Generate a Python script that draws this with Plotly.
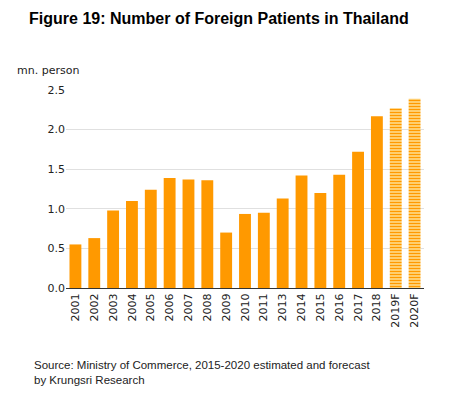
import plotly.graph_objects as go

years = ["2001", "2002", "2003", "2004", "2005", "2006", "2007", "2008", "2009", "2010",
         "2011", "2013", "2014", "2015", "2016", "2017", "2018"]
actual = [0.55, 0.63, 0.98, 1.10, 1.24, 1.39, 1.37, 1.36, 0.70, 0.935,
          0.95, 1.13, 1.42, 1.20, 1.43, 1.72, 2.17]
forecast_years = ["2019F", "2020F"]
forecast = [2.27, 2.39]
y_ticks = [0.0, 0.5, 1.0, 1.5, 2.0, 2.5]

ORANGE = "#FF9900"

fig = go.Figure()
fig.add_trace(go.Bar(x=years, y=actual, marker=dict(color=ORANGE, line=dict(width=0)),
                     width=0.63, showlegend=False))
fig.add_trace(go.Bar(x=forecast_years, y=forecast,
                     marker=dict(color="#FFF2B8", line=dict(width=0),
                                 pattern=dict(shape="-", fgcolor=ORANGE, bgcolor="#FFF2B8",
                                              size=3, solidity=0.6, fillmode="replace")),
                     width=0.63, showlegend=False))

fig.update_layout(
    width=456, height=397,
    margin=dict(l=66, r=32, t=90, b=109),
    paper_bgcolor="white", plot_bgcolor="white",
    bargap=0.37,
    title=dict(text="<b>Figure 19: Number of Foreign Patients in Thailand</b>",
               x=0.48, xanchor="center", y=1 - 18 / 397, yanchor="middle",
               font=dict(family="Liberation Sans, Arial", size=16, color="black")),
    xaxis=dict(type="category", categoryorder="array", categoryarray=years + forecast_years,
               tickangle=-90, tickfont=dict(family="DejaVu Sans", size=11, color="#222"),
               showline=True, linecolor="#333", linewidth=1, ticks="", showgrid=False),
    yaxis=dict(range=[0, 2.5], tickvals=y_ticks, tickformat=".1f",
               tickfont=dict(family="DejaVu Sans", size=11, color="#222"),
               gridcolor="#E0E0E0", gridwidth=1, zeroline=False, showline=False, ticks=""),
    annotations=[
        dict(text="mn. person", xref="paper", yref="paper", x=-0.142, y=(288 - 70) / 198,
             xanchor="left", yanchor="middle", showarrow=False,
             font=dict(family="DejaVu Sans", size=11, color="#222")),
        dict(text="Source: Ministry of Commerce, 2015-2020 estimated and forecast<br>by Krungsri Research",
             xref="paper", yref="paper", x=(32 - 66) / 358, y=(288 - 357) / 198,
             xanchor="left", yanchor="top", align="left", showarrow=False,
             font=dict(family="Liberation Sans, Arial", size=11.5, color="#222")),
    ],
)

fig.write_html("out.html", config={"displayModeBar": False},
               post_script="document.body.style.margin='0';document.body.style.overflow='hidden';")
